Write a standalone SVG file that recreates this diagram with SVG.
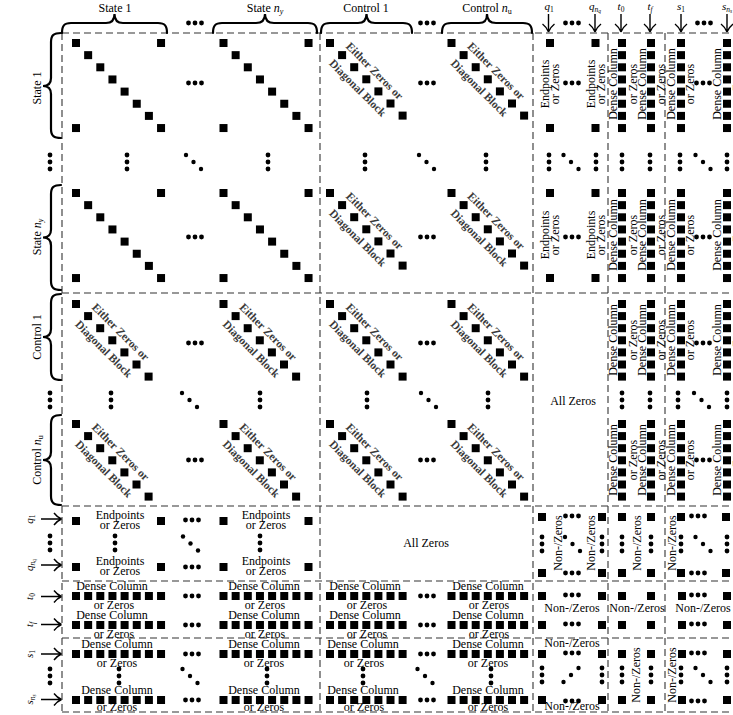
<svg xmlns="http://www.w3.org/2000/svg" xmlns:xlink="http://www.w3.org/1999/xlink" width="733" height="715" viewBox="0 0 733 715">
<style>
.g{stroke:#333;stroke-width:1.1;stroke-dasharray:7 4;fill:none}
.br{fill:none;stroke:#000;stroke-width:2.2;stroke-linecap:round}
.ar{fill:none;stroke:#000;stroke-width:1.4}
text{font-family:"Liberation Serif","Times New Roman",serif;font-size:12px;fill:#000;text-anchor:middle}
.ez{font-weight:bold;font-size:11.5px;fill:#3a3a3a}
.i{font-style:italic}
.hl{font-size:11px}
</style>
<defs>
<rect id="s" width="8" height="8"/>
<g id="hd"><circle cx="-6.5" r="2.4"/><circle r="2.4"/><circle cx="6.5" r="2.4"/></g>
<g id="vd"><circle cy="-7" r="2.4"/><circle r="2.4"/><circle cy="7" r="2.4"/></g>
<g id="dd"><circle cx="-7.5" cy="-7" r="2.2"/><circle r="2.2"/><circle cx="7.5" cy="7" r="2.2"/></g>
<g id="ad"><circle cx="-7.5" cy="7" r="2.2"/><circle r="2.2"/><circle cx="7.5" cy="-7" r="2.2"/></g>
<g id="sb"><use href="#s" x="0" y="0"/><use href="#s" x="12.15" y="12.15"/><use href="#s" x="24.3" y="24.3"/><use href="#s" x="36.45" y="36.45"/><use href="#s" x="48.6" y="48.6"/><use href="#s" x="60.75" y="60.75"/><use href="#s" x="72.9" y="72.9"/><use href="#s" x="85.05" y="85.05"/><use href="#s" x="85.05" y="0"/><use href="#s" x="0" y="85.05"/></g>
<g id="cq"><use href="#s" x="0" y="0"/><use href="#s" x="12.1" y="12.1"/><use href="#s" x="24.2" y="24.2"/><use href="#s" x="36.3" y="36.3"/><use href="#s" x="48.4" y="48.4"/><use href="#s" x="60.5" y="60.5"/><use href="#s" x="72.6" y="72.6"/></g>
<g id="v8"><use href="#s" y="0"/><use href="#s" y="12.15"/><use href="#s" y="24.3"/><use href="#s" y="36.45"/><use href="#s" y="48.6"/><use href="#s" y="60.75"/><use href="#s" y="72.9"/><use href="#s" y="85.05"/></g>
<g id="v7"><use href="#s" y="0"/><use href="#s" y="12.1"/><use href="#s" y="24.2"/><use href="#s" y="36.3"/><use href="#s" y="48.4"/><use href="#s" y="60.5"/><use href="#s" y="72.6"/></g>
<g id="h8"><use href="#s" x="0"/><use href="#s" x="12.15"/><use href="#s" x="24.3"/><use href="#s" x="36.45"/><use href="#s" x="48.6"/><use href="#s" x="60.75"/><use href="#s" x="72.9"/><use href="#s" x="85.05"/></g>
<g id="h7"><use href="#s" x="0"/><use href="#s" x="12.1"/><use href="#s" x="24.2"/><use href="#s" x="36.3"/><use href="#s" x="48.4"/><use href="#s" x="60.5"/><use href="#s" x="72.6"/></g>
</defs>
<rect width="733" height="715" fill="#fff"/>

<g id="connectors">
<path class="g" d="M62,33V712M320,33V712M533,33V712M608,33V712M665,33V712"/>
<path class="g" d="M62,33H733M62,293H733M62,506H733M62,581H733M62,638H733M62,712H733"/>
</g>

<g id="header">
<path class="br" d="M62,33C62,26 64,23 71,23L106,23C112,23 114.5,20 114.5,14C114.5,20 117,23 123,23L158,23C165,23 167,26 167,33"/>
<path class="br" d="M213,33C213,26 215,23 222,23L256,23C262,23 265,20 265,14C265,20 268,23 274,23L308,23C315,23 317,26 317,33"/>
<path class="br" d="M321,33C321,26 323,23 330,23L358,23C364,23 366.5,20 366.5,14C366.5,20 369,23 375,23L403,23C410,23 412,26 412,33"/>
<path class="br" d="M442,33C442,26 444,23 451,23L479,23C485,23 487,20 487,14C487,20 490,23 496,23L523,23C530,23 532,26 532,33"/>
<text x="115" y="11.5">State 1</text>
<text x="265" y="11.5">State <tspan class="i">n</tspan><tspan class="i" font-size="8" dy="2">y</tspan></text>
<text x="366" y="11.5">Control 1</text>
<text x="487" y="11.5">Control <tspan class="i">n</tspan><tspan font-size="8" dy="2">u</tspan></text>
<use href="#hd" x="195" y="23"/><use href="#hd" x="427" y="23"/><use href="#hd" x="572" y="23"/><use href="#hd" x="704" y="23"/>
<path class="ar" d="M548.5,14V31M542.5,24Q546.5,27 548.5,32M554.5,24Q550.5,27 548.5,32"/>
<path class="ar" d="M595,14V31M589,24Q593,27 595,32M601,24Q597,27 595,32"/>
<path class="ar" d="M621,14V31M615,24Q619,27 621,32M627,24Q623,27 621,32"/>
<path class="ar" d="M650,14V31M644,24Q648,27 650,32M656,24Q652,27 650,32"/>
<path class="ar" d="M681,14V31M675,24Q679,27 681,32M687,24Q683,27 681,32"/>
<path class="ar" d="M727,14V31M721,24Q725,27 727,32M733,24Q729,27 727,32"/>
<text class="hl" x="549" y="10"><tspan class="i">q</tspan><tspan font-size="7.5" dy="1.5">1</tspan></text>
<text class="hl" x="595" y="10"><tspan class="i">q</tspan><tspan class="i" font-size="7.5" dy="1.5">n</tspan><tspan class="i" font-size="5.5" dy="1.2">q</tspan></text>
<text class="hl" x="621" y="10"><tspan class="i">t</tspan><tspan font-size="7.5" dy="1.5">0</tspan></text>
<text class="hl" x="650" y="10"><tspan class="i">t</tspan><tspan class="i" font-size="7.5" dy="1.5">f</tspan></text>
<text class="hl" x="681" y="10"><tspan class="i">s</tspan><tspan font-size="7.5" dy="1.5">1</tspan></text>
<text class="hl" x="727" y="10"><tspan class="i">s</tspan><tspan class="i" font-size="7.5" dy="1.5">n</tspan><tspan class="i" font-size="5.5" dy="1.2">s</tspan></text>
</g>

<g id="left">
<path class="br" d="M61,33C54,33 51,35 51,42L51,78C51,83 48,86 43,86C48,86 51,89 51,94L51,129C51,136 54,138 61,138"/>
<path class="br" d="M61,185C54,185 51,187 51,194L51,229.5C51,234.5 48,237.5 43,237.5C48,237.5 51,240.5 51,245.5L51,281C51,288 54,290 61,290"/>
<path class="br" d="M61,294C54,294 51,296 51,303L51,329C51,334 48,337 43,337C48,337 51,340 51,345L51,371C51,378 54,380 61,380"/>
<path class="br" d="M61,415C54,415 51,417 51,424L51,452C51,457 48,460 43,460C48,460 51,463 51,468L51,496C51,503 54,505 61,505"/>
<text transform="translate(41,88) rotate(-90)">State 1</text>
<text transform="translate(41,237) rotate(-90)">State <tspan class="i">n</tspan><tspan class="i" font-size="8" dy="2">y</tspan></text>
<text transform="translate(41,337) rotate(-90)">Control 1</text>
<text transform="translate(41,460) rotate(-90)">Control <tspan class="i">n</tspan><tspan font-size="8" dy="2">u</tspan></text>
<use href="#vd" x="50" y="162"/><use href="#vd" x="50" y="400"/><use href="#vd" x="50" y="543"/><use href="#vd" x="50" y="676"/>
<path class="ar" d="M41,519H61M54,513Q57,517 61.5,519M54,525Q57,521 61.5,519"/>
<path class="ar" d="M41,565H61M54,559Q57,563 61.5,565M54,571Q57,567 61.5,565"/>
<path class="ar" d="M41,596.5H61M54,590.5Q57,594.5 61.5,596.5M54,602.5Q57,598.5 61.5,596.5"/>
<path class="ar" d="M41,624.5H61M54,618.5Q57,622.5 61.5,624.5M54,630.5Q57,626.5 61.5,624.5"/>
<path class="ar" d="M41,654H61M54,648Q57,652 61.5,654M54,660Q57,656 61.5,654"/>
<path class="ar" d="M41,699.5H61M54,693.5Q57,697.5 61.5,699.5M54,705.5Q57,701.5 61.5,699.5"/>
<text class="hl" transform="translate(33,519) rotate(-90)"><tspan class="i">q</tspan><tspan font-size="7.5" dy="1.5">1</tspan></text>
<text class="hl" transform="translate(33,565) rotate(-90)"><tspan class="i">q</tspan><tspan class="i" font-size="7.5" dy="1.5">n</tspan><tspan class="i" font-size="5.5" dy="1.2">q</tspan></text>
<text class="hl" transform="translate(33,596.5) rotate(-90)"><tspan class="i">t</tspan><tspan font-size="7.5" dy="1.5">0</tspan></text>
<text class="hl" transform="translate(33,624.5) rotate(-90)"><tspan class="i">t</tspan><tspan class="i" font-size="7.5" dy="1.5">f</tspan></text>
<text class="hl" transform="translate(33,654) rotate(-90)"><tspan class="i">s</tspan><tspan font-size="7.5" dy="1.5">1</tspan></text>
<text class="hl" transform="translate(33,699.5) rotate(-90)"><tspan class="i">s</tspan><tspan class="i" font-size="7.5" dy="1.5">n</tspan><tspan class="i" font-size="5.5" dy="1.2">s</tspan></text>
</g>

<g id="state-rows">
<use href="#sb" x="72" y="39"/><use href="#sb" x="219.5" y="39"/><use href="#sb" x="72" y="189"/><use href="#sb" x="219.5" y="189"/>
<use href="#hd" x="195" y="83"/><use href="#hd" x="195" y="237"/><use href="#hd" x="427" y="83"/><use href="#hd" x="427" y="237"/>
<use href="#cq" x="326" y="39"/><use href="#cq" x="447.5" y="39"/><use href="#cq" x="326" y="189"/><use href="#cq" x="447.5" y="189"/>
<g transform="translate(366.3,79.3) rotate(45)"><text class="ez" y="-8">Either Zeros or</text><text class="ez" y="16">Diagonal Block</text></g>
<g transform="translate(487.8,79.3) rotate(45)"><text class="ez" y="-8">Either Zeros or</text><text class="ez" y="16">Diagonal Block</text></g>
<g transform="translate(366.3,229.3) rotate(45)"><text class="ez" y="-8">Either Zeros or</text><text class="ez" y="16">Diagonal Block</text></g>
<g transform="translate(487.8,229.3) rotate(45)"><text class="ez" y="-8">Either Zeros or</text><text class="ez" y="16">Diagonal Block</text></g>
<use href="#s" x="546" y="39"/><use href="#s" x="546" y="124"/><use href="#s" x="591.5" y="39"/><use href="#s" x="591.5" y="124"/>
<use href="#s" x="546" y="189"/><use href="#s" x="546" y="274"/><use href="#s" x="591.5" y="189"/><use href="#s" x="591.5" y="274"/>
<g transform="translate(549,84) rotate(-90)"><text>Endpoints</text><text y="10">or Zeros</text></g>
<g transform="translate(595,84) rotate(-90)"><text>Endpoints</text><text y="10">or Zeros</text></g>
<g transform="translate(549,235) rotate(-90)"><text>Endpoints</text><text y="10">or Zeros</text></g>
<g transform="translate(595,235) rotate(-90)"><text>Endpoints</text><text y="10">or Zeros</text></g>
<use href="#hd" x="572" y="83"/><use href="#hd" x="572" y="237"/>
<use href="#v8" x="618" y="39"/><use href="#v8" x="647" y="39"/><use href="#v8" x="677" y="39"/><use href="#v8" x="723" y="39"/>
<use href="#v8" x="618" y="189"/><use href="#v8" x="647" y="189"/><use href="#v8" x="677" y="189"/><use href="#v8" x="723" y="189"/>
<g transform="translate(617,84) rotate(-90)"><text>Dense Column</text><text y="19.5">or Zeros</text></g>
<g transform="translate(645.5,84) rotate(-90)"><text>Dense Column</text><text y="19.5">or Zeros</text></g>
<g transform="translate(674.5,84) rotate(-90)"><text>Dense Column</text><text y="19.5">or Zeros</text></g>
<g transform="translate(721,84) rotate(-90)"><text>Dense Column</text><text y="19.5">or Zeros</text></g>
<g transform="translate(617,235) rotate(-90)"><text>Dense Column</text><text y="19.5">or Zeros</text></g>
<g transform="translate(645.5,235) rotate(-90)"><text>Dense Column</text><text y="19.5">or Zeros</text></g>
<g transform="translate(674.5,235) rotate(-90)"><text>Dense Column</text><text y="19.5">or Zeros</text></g>
<g transform="translate(721,235) rotate(-90)"><text>Dense Column</text><text y="19.5">or Zeros</text></g>
<use href="#hd" x="703" y="83"/><use href="#hd" x="703" y="237"/>
<use href="#vd" x="127" y="162"/><use href="#vd" x="268" y="162"/><use href="#vd" x="365" y="162"/><use href="#vd" x="486" y="162"/><use href="#vd" x="549" y="162"/><use href="#vd" x="596" y="162"/><use href="#vd" x="622" y="162"/><use href="#vd" x="650" y="162"/><use href="#vd" x="680" y="162"/><use href="#vd" x="727" y="162"/>
<use href="#dd" x="193.5" y="162"/><use href="#dd" x="426.5" y="162"/><use href="#dd" x="571" y="162"/><use href="#dd" x="703" y="162"/>
</g>

<g id="control-rows">
<use href="#cq" x="72" y="300"/><use href="#cq" x="219.5" y="300"/><use href="#cq" x="326" y="300"/><use href="#cq" x="447.5" y="300"/>
<use href="#cq" x="72" y="420"/><use href="#cq" x="219.5" y="420"/><use href="#cq" x="326" y="420"/><use href="#cq" x="447.5" y="420"/>
<g transform="translate(112.3,340.3) rotate(45)"><text class="ez" y="-8">Either Zeros or</text><text class="ez" y="16">Diagonal Block</text></g>
<g transform="translate(259.8,340.3) rotate(45)"><text class="ez" y="-8">Either Zeros or</text><text class="ez" y="16">Diagonal Block</text></g>
<g transform="translate(366.3,340.3) rotate(45)"><text class="ez" y="-8">Either Zeros or</text><text class="ez" y="16">Diagonal Block</text></g>
<g transform="translate(487.8,340.3) rotate(45)"><text class="ez" y="-8">Either Zeros or</text><text class="ez" y="16">Diagonal Block</text></g>
<g transform="translate(112.3,460.3) rotate(45)"><text class="ez" y="-8">Either Zeros or</text><text class="ez" y="16">Diagonal Block</text></g>
<g transform="translate(259.8,460.3) rotate(45)"><text class="ez" y="-8">Either Zeros or</text><text class="ez" y="16">Diagonal Block</text></g>
<g transform="translate(366.3,460.3) rotate(45)"><text class="ez" y="-8">Either Zeros or</text><text class="ez" y="16">Diagonal Block</text></g>
<g transform="translate(487.8,460.3) rotate(45)"><text class="ez" y="-8">Either Zeros or</text><text class="ez" y="16">Diagonal Block</text></g>
<use href="#hd" x="195" y="343"/><use href="#hd" x="427" y="343"/><use href="#hd" x="195" y="460"/><use href="#hd" x="427" y="460"/>
<text x="573" y="405">All Zeros</text>
<use href="#v7" x="618" y="300"/><use href="#v7" x="647" y="300"/><use href="#v7" x="677" y="300"/><use href="#v7" x="723" y="300"/>
<use href="#v7" x="618" y="420"/><use href="#v7" x="647" y="420"/><use href="#v7" x="677" y="420"/><use href="#v7" x="723" y="420"/>
<g transform="translate(617,340) rotate(-90)"><text>Dense Column</text><text y="19.5">or Zeros</text></g>
<g transform="translate(645.5,340) rotate(-90)"><text>Dense Column</text><text y="19.5">or Zeros</text></g>
<g transform="translate(674.5,340) rotate(-90)"><text>Dense Column</text><text y="19.5">or Zeros</text></g>
<g transform="translate(721,340) rotate(-90)"><text>Dense Column</text><text y="19.5">or Zeros</text></g>
<g transform="translate(617,460) rotate(-90)"><text>Dense Column</text><text y="19.5">or Zeros</text></g>
<g transform="translate(645.5,460) rotate(-90)"><text>Dense Column</text><text y="19.5">or Zeros</text></g>
<g transform="translate(674.5,460) rotate(-90)"><text>Dense Column</text><text y="19.5">or Zeros</text></g>
<g transform="translate(721,460) rotate(-90)"><text>Dense Column</text><text y="19.5">or Zeros</text></g>
<use href="#hd" x="703" y="343"/><use href="#hd" x="703" y="460"/>
<use href="#vd" x="111" y="400"/><use href="#vd" x="260" y="400"/><use href="#vd" x="367" y="400"/><use href="#vd" x="488" y="400"/><use href="#vd" x="622" y="400"/><use href="#vd" x="650" y="400"/><use href="#vd" x="678" y="400"/><use href="#vd" x="727" y="400"/>
<use href="#dd" x="189.5" y="400"/><use href="#dd" x="428.5" y="400"/><use href="#dd" x="701.5" y="400"/>
</g>

<g id="q-rows">
<use href="#s" x="72" y="517"/><use href="#s" x="157" y="517"/><use href="#s" x="219.5" y="517"/><use href="#s" x="304.5" y="517"/>
<use href="#s" x="72" y="563"/><use href="#s" x="157" y="563"/><use href="#s" x="219.5" y="563"/><use href="#s" x="304.5" y="563"/>
<text x="120" y="519">Endpoints</text><text x="120" y="528.5">or Zeros</text>
<text x="266" y="519">Endpoints</text><text x="266" y="528.5">or Zeros</text>
<text x="120" y="565">Endpoints</text><text x="120" y="575">or Zeros</text>
<text x="266" y="565">Endpoints</text><text x="266" y="575">or Zeros</text>
<use href="#hd" x="192" y="520"/><use href="#hd" x="192" y="567"/>
<use href="#vd" x="115" y="543"/><use href="#vd" x="260" y="543"/><use href="#dd" x="190.5" y="543.5"/>
<text x="426" y="547">All Zeros</text>
<use href="#s" x="538" y="513"/><use href="#s" x="598" y="513"/><use href="#s" x="538" y="569"/><use href="#s" x="598" y="569"/>
<use href="#hd" x="572" y="516"/><use href="#hd" x="572" y="573"/>
<use href="#vd" x="542" y="544"/><use href="#vd" x="602" y="544"/><use href="#dd" x="572.5" y="544"/>
<text transform="translate(562,543) rotate(-90)">Non-/Zeros</text>
<text transform="translate(595,543) rotate(-90)">Non-/Zeros</text>
<use href="#s" x="618" y="513"/><use href="#s" x="647" y="513"/><use href="#s" x="618" y="569"/><use href="#s" x="647" y="569"/>
<use href="#vd" x="622" y="544"/><use href="#vd" x="651" y="544"/>
<text transform="translate(641,543) rotate(-90)">Non-/Zeros</text>
<use href="#s" x="677" y="513"/><use href="#s" x="722" y="513"/><use href="#s" x="677" y="569"/><use href="#s" x="722" y="569"/>
<use href="#hd" x="698" y="516"/><use href="#hd" x="698" y="573"/>
<use href="#vd" x="681" y="544"/><use href="#vd" x="727" y="544"/><use href="#dd" x="703" y="544"/>
<text transform="translate(676,543) rotate(-90)">Non-/Zeros</text>
</g>

<g id="t-rows">
<use href="#h8" x="72" y="592"/><use href="#h8" x="219.5" y="592"/><use href="#h8" x="72" y="621"/><use href="#h8" x="219.5" y="621"/>
<use href="#h7" x="326" y="592"/><use href="#h7" x="447.5" y="592"/><use href="#h7" x="326" y="621"/><use href="#h7" x="447.5" y="621"/>
<use href="#hd" x="192" y="596"/><use href="#hd" x="427" y="596"/><use href="#hd" x="192" y="625"/><use href="#hd" x="427" y="625"/>
<text x="112" y="590">Dense Column</text><text x="114" y="609">or Zeros</text>
<text x="264" y="590">Dense Column</text><text x="265" y="609">or Zeros</text>
<text x="365" y="590">Dense Column</text><text x="367" y="609">or Zeros</text>
<text x="488" y="590">Dense Column</text><text x="489" y="609">or Zeros</text>
<text x="112" y="619">Dense Column</text><text x="114" y="638">or Zeros</text>
<text x="264" y="619">Dense Column</text><text x="265" y="638">or Zeros</text>
<text x="365" y="619">Dense Column</text><text x="367" y="638">or Zeros</text>
<text x="488" y="619">Dense Column</text><text x="489" y="638">or Zeros</text>
<use href="#s" x="538" y="592"/><use href="#s" x="598" y="592"/><use href="#s" x="538" y="621"/><use href="#s" x="598" y="621"/>
<use href="#hd" x="572" y="595"/><use href="#hd" x="572" y="624"/>
<text x="572" y="612">Non-/Zeros</text>
<use href="#s" x="618" y="592"/><use href="#s" x="647" y="592"/><use href="#s" x="618" y="621"/><use href="#s" x="647" y="621"/>
<text x="637" y="612">Non-/Zeros</text>
<use href="#s" x="678" y="592"/><use href="#s" x="723" y="592"/><use href="#s" x="678" y="621"/><use href="#s" x="723" y="621"/>
<use href="#hd" x="698" y="595"/><use href="#hd" x="698" y="624"/>
<text x="703" y="612">Non-/Zeros</text>
</g>

<g id="s-rows">
<use href="#h8" x="72" y="650"/><use href="#h8" x="219.5" y="650"/><use href="#h8" x="72" y="696"/><use href="#h8" x="219.5" y="696"/>
<use href="#h7" x="326" y="650"/><use href="#h7" x="447.5" y="650"/><use href="#h7" x="326" y="696"/><use href="#h7" x="447.5" y="696"/>
<use href="#hd" x="192" y="654"/><use href="#hd" x="427" y="654"/><use href="#hd" x="192" y="700"/><use href="#hd" x="427" y="700"/>
<use href="#vd" x="119" y="676"/><use href="#vd" x="267" y="676"/><use href="#vd" x="363" y="676"/><use href="#vd" x="491" y="676"/>
<use href="#dd" x="190" y="676"/><use href="#dd" x="425" y="676"/>
<text x="117" y="648">Dense Column</text><text x="117" y="666.5">or Zeros</text>
<text x="264" y="648">Dense Column</text><text x="264" y="666.5">or Zeros</text>
<text x="363" y="648">Dense Column</text><text x="364" y="666.5">or Zeros</text>
<text x="488" y="648">Dense Column</text><text x="488" y="666.5">or Zeros</text>
<text x="117" y="693.5">Dense Column</text><text x="117" y="711">or Zeros</text>
<text x="264" y="693.5">Dense Column</text><text x="264" y="711">or Zeros</text>
<text x="363" y="693.5">Dense Column</text><text x="364" y="711">or Zeros</text>
<text x="488" y="693.5">Dense Column</text><text x="488" y="711">or Zeros</text>
<use href="#s" x="538" y="650"/><use href="#s" x="598" y="650"/><use href="#s" x="538" y="696"/><use href="#s" x="598" y="696"/>
<use href="#hd" x="572" y="653"/><use href="#hd" x="572" y="701"/>
<use href="#vd" x="542" y="675"/><use href="#vd" x="602" y="675"/><use href="#ad" x="571" y="675"/>
<text x="572" y="647">Non-/Zeros</text><text x="572" y="710">Non-/Zeros</text>
<use href="#s" x="618" y="650"/><use href="#s" x="647" y="650"/><use href="#s" x="618" y="696"/><use href="#s" x="647" y="696"/>
<use href="#vd" x="622" y="675"/><use href="#vd" x="651" y="675"/>
<text transform="translate(640,675) rotate(-90)">Non-/Zeros</text>
<use href="#s" x="678" y="650"/><use href="#s" x="723" y="650"/><use href="#s" x="678" y="696"/><use href="#s" x="723" y="696"/>
<use href="#hd" x="698" y="653"/><use href="#hd" x="698" y="701"/>
<use href="#vd" x="681" y="675"/><use href="#vd" x="727" y="675"/><use href="#dd" x="703" y="675"/>
<text transform="translate(676,675) rotate(-90)">Non-/Zeros</text>
</g>
</svg>
